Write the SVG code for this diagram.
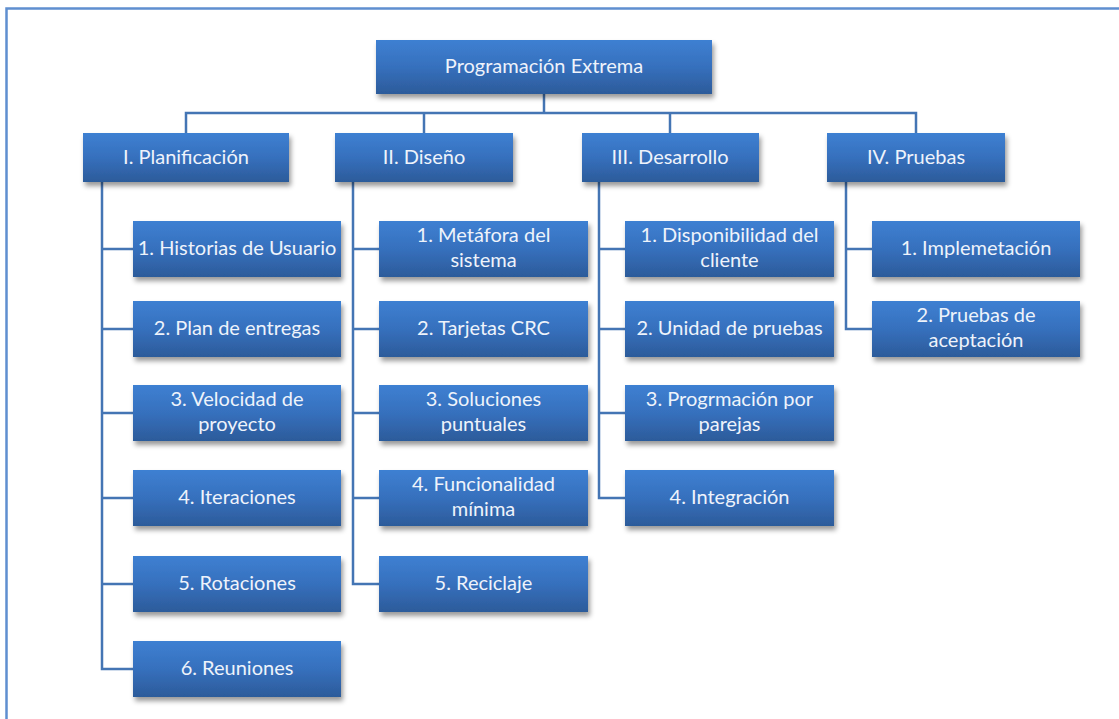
<svg xmlns="http://www.w3.org/2000/svg" width="1119" height="719" viewBox="0 0 1119 719">
  <defs>
    <linearGradient id="boxFill" x1="0" y1="0" x2="0" y2="1">
      <stop offset="0" stop-color="#3e80d2"/>
      <stop offset="0.5" stop-color="#3670bd"/>
      <stop offset="1" stop-color="#2c5b9a"/>
    </linearGradient>
    <filter id="shadow" x="-10%" y="-20%" width="125%" height="160%">
      <feDropShadow dx="2" dy="4" stdDeviation="2.5" flood-color="#000" flood-opacity="0.4"/>
    </filter>
    <style>
      .box { fill: url(#boxFill); filter: url(#shadow); }
      .lbl { font-family: Lato, "Liberation Sans", sans-serif; font-size: 20px; fill: #eef3fb; text-anchor: middle; }
      .conn { fill: none; stroke: #4475b4; stroke-width: 2.5; stroke-linejoin: miter; }
      .frame { fill: none; stroke: #5f8fd0; stroke-width: 2.5; }
    </style>
  </defs>

  <rect width="1119" height="719" fill="#ffffff"/>
  <path class="frame" d="M6.5 719 V8.5 H1119"/>

  <!-- connectors -->
  <g id="connectors">
    <path class="conn" d="M544 94 V113"/>
    <path class="conn" d="M186 133 V113 H916 V133"/>
    <path class="conn" d="M424 113 V133"/>
    <path class="conn" d="M670 113 V133"/>

    <path class="conn" d="M102 182 V669 H133"/>
    <path class="conn" d="M102 249 H133 M102 329 H133 M102 413 H133 M102 498 H133 M102 584 H133"/>

    <path class="conn" d="M353 182 V584 H379"/>
    <path class="conn" d="M353 249 H379 M353 329 H379 M353 413 H379 M353 498 H379"/>

    <path class="conn" d="M599 182 V498 H625"/>
    <path class="conn" d="M599 249 H625 M599 329 H625 M599 413 H625"/>

    <path class="conn" d="M846 182 V329 H872"/>
    <path class="conn" d="M846 249 H872"/>
  </g>

  <!-- root -->
  <g id="root">
    <rect class="box" x="376" y="40" width="336" height="54"/>
    <text class="lbl" x="544" y="73">Programación Extrema</text>
  </g>

  <!-- phases -->
  <g id="planificacion">
    <rect class="box" x="83" y="133" width="206" height="49"/>
    <text class="lbl" x="186" y="164">I. Planificación</text>
  </g>
  <g id="diseno">
    <rect class="box" x="335" y="133" width="178" height="49"/>
    <text class="lbl" x="424" y="164">II. Diseño</text>
  </g>
  <g id="desarrollo">
    <rect class="box" x="582" y="133" width="177" height="49"/>
    <text class="lbl" x="670" y="164">III. Desarrollo</text>
  </g>
  <g id="pruebas">
    <rect class="box" x="827" y="133" width="178" height="49"/>
    <text class="lbl" x="916" y="164">IV. Pruebas</text>
  </g>

  <!-- Planificación items -->
  <g id="historias">
    <rect class="box" x="133" y="221" width="208" height="56"/>
    <text class="lbl" x="237" y="255">1. Historias de Usuario</text>
  </g>
  <g id="plan-entregas">
    <rect class="box" x="133" y="301" width="208" height="56"/>
    <text class="lbl" x="237" y="335">2. Plan de entregas</text>
  </g>
  <g id="velocidad">
    <rect class="box" x="133" y="385" width="208" height="56"/>
    <text class="lbl" x="237" y="406">3. Velocidad de</text>
    <text class="lbl" x="237" y="431">proyecto</text>
  </g>
  <g id="iteraciones">
    <rect class="box" x="133" y="470" width="208" height="56"/>
    <text class="lbl" x="237" y="504">4. Iteraciones</text>
  </g>
  <g id="rotaciones">
    <rect class="box" x="133" y="556" width="208" height="56"/>
    <text class="lbl" x="237" y="590">5. Rotaciones</text>
  </g>
  <g id="reuniones">
    <rect class="box" x="133" y="641" width="208" height="56"/>
    <text class="lbl" x="237" y="675">6. Reuniones</text>
  </g>

  <!-- Diseño items -->
  <g id="metafora">
    <rect class="box" x="379" y="221" width="209" height="56"/>
    <text class="lbl" x="483.5" y="242">1. Metáfora del</text>
    <text class="lbl" x="483.5" y="267">sistema</text>
  </g>
  <g id="tarjetas">
    <rect class="box" x="379" y="301" width="209" height="56"/>
    <text class="lbl" x="483.5" y="335">2. Tarjetas CRC</text>
  </g>
  <g id="soluciones">
    <rect class="box" x="379" y="385" width="209" height="56"/>
    <text class="lbl" x="483.5" y="406">3. Soluciones</text>
    <text class="lbl" x="483.5" y="431">puntuales</text>
  </g>
  <g id="funcionalidad">
    <rect class="box" x="379" y="470" width="209" height="56"/>
    <text class="lbl" x="483.5" y="491">4. Funcionalidad</text>
    <text class="lbl" x="483.5" y="516">mínima</text>
  </g>
  <g id="reciclaje">
    <rect class="box" x="379" y="556" width="209" height="56"/>
    <text class="lbl" x="483.5" y="590">5. Reciclaje</text>
  </g>

  <!-- Desarrollo items -->
  <g id="disponibilidad">
    <rect class="box" x="625" y="221" width="209" height="56"/>
    <text class="lbl" x="729.5" y="242">1. Disponibilidad del</text>
    <text class="lbl" x="729.5" y="267">cliente</text>
  </g>
  <g id="unidad-pruebas">
    <rect class="box" x="625" y="301" width="209" height="56"/>
    <text class="lbl" x="729.5" y="335">2. Unidad de pruebas</text>
  </g>
  <g id="parejas">
    <rect class="box" x="625" y="385" width="209" height="56"/>
    <text class="lbl" x="729.5" y="406">3. Progrmación por</text>
    <text class="lbl" x="729.5" y="431">parejas</text>
  </g>
  <g id="integracion">
    <rect class="box" x="625" y="470" width="209" height="56"/>
    <text class="lbl" x="729.5" y="504">4. Integración</text>
  </g>

  <!-- Pruebas items -->
  <g id="implementacion">
    <rect class="box" x="872" y="221" width="208" height="56"/>
    <text class="lbl" x="976" y="255">1. Implemetación</text>
  </g>
  <g id="aceptacion">
    <rect class="box" x="872" y="301" width="208" height="56"/>
    <text class="lbl" x="976" y="322">2. Pruebas de</text>
    <text class="lbl" x="976" y="347">aceptación</text>
  </g>
</svg>
